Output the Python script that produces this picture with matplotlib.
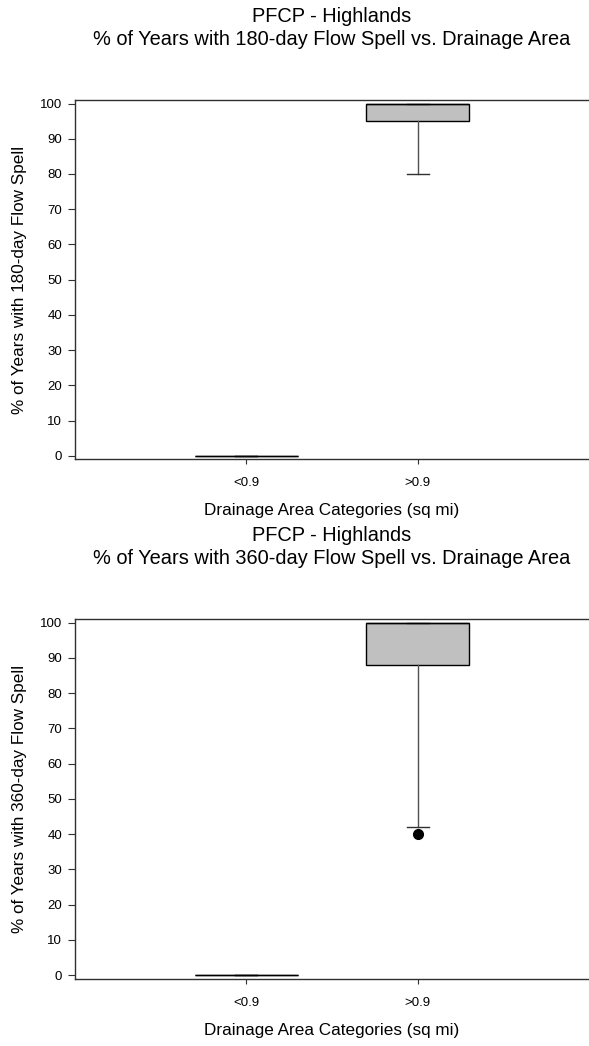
import matplotlib
matplotlib.use('Agg')
import matplotlib.pyplot as plt

plt.rcParams['font.family'] = ['Liberation Sans', 'DejaVu Sans']

# box statistics for each drainage-area category
categories = ['<0.9', '>0.9']

spell_days = [180, 360]
q1 = [[0, 95], [0, 88]]
med = [[0, 100], [0, 100]]
q3 = [[0, 100], [0, 100]]
whislo = [[0, 80], [0, 42]]
whishi = [[0, 100], [0, 100]]
fliers = [[[], []], [[], [40]]]

yticks = [0, 10, 20, 30, 40, 50, 60, 70, 80, 90, 100]

W, H = 589, 1046
fig = plt.figure(figsize=(W / 100, H / 100), dpi=100)

# axes frames in pixel terms: (top, bottom)
frames = [(100, 459.3), (619, 978.7)]
left = 75

for i, days in enumerate(spell_days):
    top, bot = frames[i]
    ax = fig.add_axes([left / W, 1 - bot / H, 1 - left / W, (bot - top) / H])

    stats = []
    for j, cat in enumerate(categories):
        stats.append({'label': cat, 'q1': q1[i][j], 'med': med[i][j], 'q3': q3[i][j],
                      'whislo': whislo[i][j], 'whishi': whishi[i][j],
                      'fliers': fliers[i][j]})

    ax.bxp(stats, positions=[1, 2], widths=0.6, patch_artist=True,
           boxprops=dict(facecolor='#c0c0c0', edgecolor='black', linewidth=1.0),
           medianprops=dict(color='black', linewidth=1.0),
           whiskerprops=dict(color='#505050', linewidth=1.0),
           capprops=dict(color='#303030', linewidth=1.0),
           capwidths=0.13,
           flierprops=dict(marker='o', markerfacecolor='black', markeredgecolor='black',
                           markersize=7))

    ax.set_xlim(0, 3)
    ax.set_ylim(-1, 101)
    ax.set_yticks(yticks)
    ax.set_xticks([1, 2])
    ax.set_xticklabels(categories)
    ax.spines['right'].set_visible(False)
    for s in ['left', 'bottom', 'top']:
        ax.spines[s].set_color('#303030')
        ax.spines[s].set_linewidth(1.0)
    ax.tick_params(axis='y', direction='out', length=5, width=0.8, color='#303030',
                   labelsize=9.5, pad=4.3)
    ax.tick_params(axis='x', direction='out', length=3.6, width=0.8, color='#303030',
                   labelsize=9.5, pad=9.3)

    ax.set_ylabel(f'% of Years with {days}-day Flow Spell', fontsize=12.3, labelpad=9)
    ax.set_xlabel('Drainage Area Categories (sq mi)', fontsize=12.3, labelpad=10)
    ax.set_title(f'PFCP - Highlands\n% of Years with {days}-day Flow Spell vs. Drainage Area',
                 fontsize=14.4, pad=39.5, linespacing=1.3)

plt.savefig('out.png', dpi=100)
